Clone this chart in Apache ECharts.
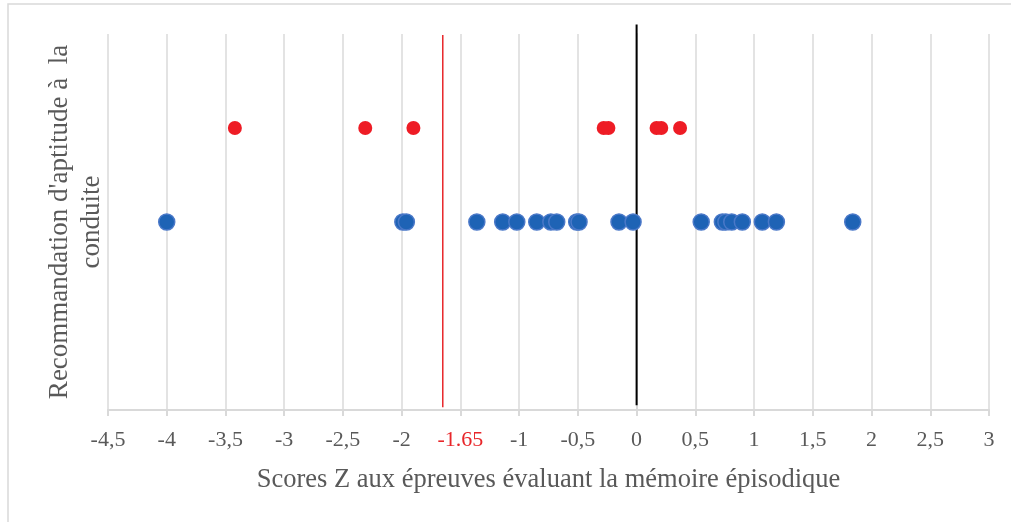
<!DOCTYPE html>
<html>
<head>
<meta charset="utf-8">
<script src="https://cdn.jsdelivr.net/npm/echarts@6/dist/echarts.min.js"></script>
<style>html,body{margin:0;padding:0;background:#fff}#c{width:1011px;height:522px}</style>
</head>
<body>
<div id="c"></div>
<script>
var redScores = [-3.42, -2.31, -1.90, -0.28, -0.24, 0.17, 0.21, 0.37];
var blueScores = [-4.0, -1.99, -1.96, -1.36, -1.14, -1.02, -0.85, -0.73, -0.68, -0.51, -0.49, -0.15, -0.03, 0.55, 0.73, 0.76, 0.81, 0.90, 1.07, 1.19, 1.84];
var redLevel = 3;
var blueLevel = 2;
var thresholdLine = [[-1.65, 0.03], [-1.65, 3.99]];
var zeroLine = [[0, 0.05], [0, 4.1]];
var xTickLabels = {'-1.5': '-1.65'};

var font = 'Liberation Serif';
var chart = echarts.init(document.getElementById('c'), null, {renderer: 'canvas'});
chart.setOption({
  animation: false,
  backgroundColor: '#fff',
  graphic: [{
    type: 'rect', shape: {x: 8, y: 4, width: 1020, height: 540},
    style: {fill: 'none', stroke: '#d9d9d9', lineWidth: 1.5}, silent: true
  }],
  grid: {left: 108, right: 22, top: 34, bottom: 112},
  xAxis: {
    type: 'value', min: -4.5, max: 3, interval: 0.5,
    name: 'Scores Z aux épreuves évaluant la mémoire épisodique',
    nameLocation: 'middle', nameGap: 57,
    nameTextStyle: {fontFamily: font, fontSize: 26.5, color: '#595959'},
    axisLine: {show: true, onZero: false, lineStyle: {color: '#d9d9d9', width: 2}},
    axisTick: {show: true, length: 6, lineStyle: {color: '#d9d9d9', width: 2}},
    splitLine: {show: true, lineStyle: {color: '#e3e3e3', width: 2}},
    axisLabel: {
      fontFamily: font, fontSize: 22, color: '#595959', margin: 19,
      formatter: function (v) {
        var k = String(Math.round(v * 100) / 100);
        if (xTickLabels[k]) return '{r|' + xTickLabels[k] + '}';
        return k.replace('.', ',');
      },
      rich: {r: {color: '#e8262a', fontFamily: font, fontSize: 22}}
    }
  },
  yAxis: {
    type: 'value', min: 0, max: 4,
    name: "Recommandation d'aptitude à  la\nconduite",
    nameLocation: 'middle', nameGap: 0, nameRotate: 90,
    nameTextStyle: {fontFamily: font, fontSize: 27, color: '#595959', lineHeight: 32, align: 'center'},
    axisLine: {show: true, lineStyle: {color: '#d9d9d9', width: 2}},
    axisTick: {show: false},
    axisLabel: {show: false},
    splitLine: {show: false}
  },
  series: [
    {
      type: 'line', data: thresholdLine, symbol: 'none', clip: false, silent: true,
      lineStyle: {color: '#e8262a', width: 1.5}, z: 1
    },
    {
      type: 'line', data: zeroLine, symbol: 'none', clip: false, silent: true,
      lineStyle: {color: '#000', width: 2}, z: 1
    },
    {
      type: 'scatter', symbolSize: 14,
      data: redScores.map(function (v) { return [v, redLevel]; }),
      itemStyle: {color: '#ee1c25', opacity: 1}, z: 3
    },
    {
      type: 'scatter', symbolSize: 16,
      data: blueScores.map(function (v) { return [v, blueLevel]; }),
      itemStyle: {color: '#1e63b5', borderColor: '#4a78c8', borderWidth: 1.5, opacity: 1}, z: 3
    }
  ]
});
</script>
</body>
</html>
